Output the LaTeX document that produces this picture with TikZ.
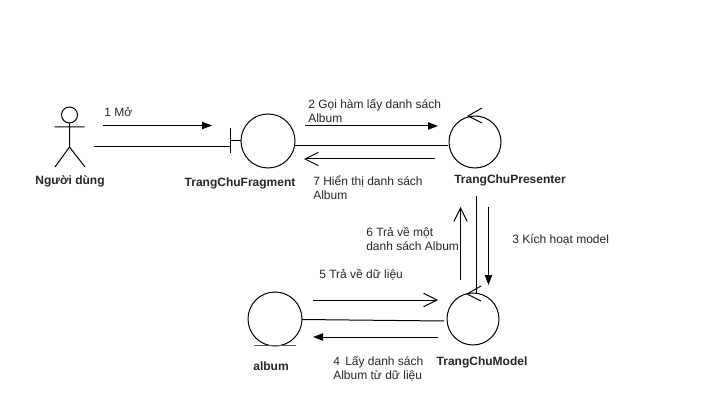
\documentclass[tikz,border=0pt]{standalone}
\usepackage{fontspec}
\setmainfont{Liberation Sans}
\usetikzlibrary{arrows.meta}
\tikzset{
  x=0.75pt,y=-0.75pt,
  ln/.style={draw=black,line width=0.75pt},
  filledar/.style={ln,-{Triangle[length=7.5pt,width=5.5pt,fill=black]}},
  openar/.style={ln,-{Straight Barb[length=10pt,width=10pt,line width=0.75pt]}},
  lifeline/.style={circle,draw=black,line width=0.75pt,minimum size=39pt,inner sep=0pt},
  lbl/.style={font=\fontsize{9}{10.5}\selectfont,inner sep=0pt,anchor=west,align=left,text=black!85},
  title/.style={font=\fontsize{9}{10.5}\selectfont\bfseries,inner sep=0pt,text=black!85}
}
\begin{document}
\begin{tikzpicture}
\useasboundingbox[fill=white] (0,0) rectangle (727,420);
% actor
\node[circle,draw,line width=0.75pt,minimum size=12pt,inner sep=0pt] (head) at (69.5,115) {};
\coordinate (hip) at (69.5,147);
\coordinate (armL) at (54.5,127);
\coordinate (armR) at (84.5,127);
\coordinate (legL) at (55,167);
\coordinate (legR) at (85,167);
\draw[ln] (head) -- (hip) (armL) -- (armR) (legL) -- (hip) -- (legR);
\node[title] (actorname) at (70,181) {Người dùng};
% lifelines
\node[lifeline,minimum size=40.5pt] (frag) at (268,141) {};
\node[lifeline] (pres) at (475,142) {};
\node[lifeline] (model) at (473,319) {};
\node[lifeline,minimum size=40.5pt] (album) at (275,319) {};
% boundary mark
\coordinate (bt) at (230,128);
\coordinate (bb) at (230,153);
\coordinate (bm) at (230,140.5);
\draw[ln] (bt) -- (bb);
\draw[ln] (bm) -- (frag.west |- bm);
% entity underline
\coordinate (eL) at (254,345.5);
\coordinate (eR) at (296,345.5);
\draw[draw=black!65,line width=1pt] (eL) -- (eR);
% control marks
\coordinate (pa) at (482,108); \coordinate (pb) at (468,116); \coordinate (pc) at (482,123);
\draw[ln] (pa) -- (pb) -- (pc);
\coordinate (ma) at (481,286); \coordinate (mb) at (467,294); \coordinate (mc) at (481,301);
\draw[ln] (ma) -- (mb) -- (mc);
% titles
\node[title] (fragname) at (240,183) {TrangChuFragment};
\node[title] (presname) at (510,180) {TrangChuPresenter};
\node[title] (modelname) at (482,362) {TrangChuModel};
\node[title] (albumname) at (271,366) {album};
% association lines
\coordinate (actorR) at (94,146.5);
\coordinate (bl) at (230,146.5);
\draw[ln] (actorR) -- (bl);
\coordinate (p1) at (295,145.3);
\coordinate (p2) at (448,145.3);
\draw[ln] (p1) -- (p2);
\coordinate (v1) at (476,196);
\coordinate (v2) at (476,294);
\draw[ln] (v1) -- (v2);
\coordinate (a1) at (302,319.5);
\coordinate (a2) at (444,321);
\draw[ln] (a1) -- (a2);
% messages
\coordinate (m1a) at (103,125.5); \coordinate (m1b) at (212,125.5);
\draw[filledar] (m1a) -- (m1b);
\node[lbl] (t1) at (104,112) {1 Mở};
\coordinate (m2a) at (305,126); \coordinate (m2b) at (438,126);
\draw[filledar] (m2a) -- (m2b);
\node[lbl] (t2) at (308,111) {2 Gọi hàm lấy danh sách\\Album};
\coordinate (m7a) at (435,159); \coordinate (m7b) at (304,159);
\draw[openar] (m7a) -- (m7b);
\node[lbl] (t7) at (313,188) {7 Hiển thị danh sách\\Album};
\coordinate (m6a) at (460.5,280); \coordinate (m6b) at (460.5,207);
\draw[openar] (m6a) -- (m6b);
\node[lbl] (t6) at (366,238.5) {6 Trả về một\\danh sách Album};
\coordinate (m3a) at (488.5,207); \coordinate (m3b) at (488.5,285);
\draw[filledar] (m3a) -- (m3b);
\node[lbl] (t3) at (512,239.5) {3 Kích hoạt model};
\coordinate (m5a) at (313,300); \coordinate (m5b) at (438,300);
\draw[openar] (m5a) -- (m5b);
\node[lbl] (t5) at (319,275) {5 Trả về dữ liệu};
\coordinate (m4a) at (438,337); \coordinate (m4b) at (313,337);
\draw[filledar] (m4a) -- (m4b);
\node[lbl] (t4) at (333,369) {4\, Lấy danh sách\\Album từ dữ liệu};
\end{tikzpicture}
\end{document}
